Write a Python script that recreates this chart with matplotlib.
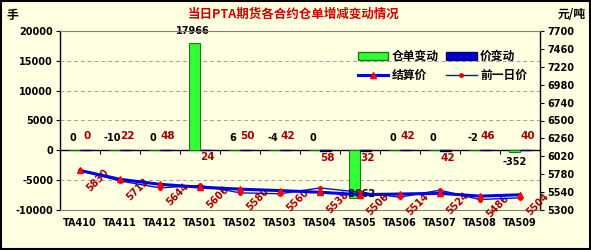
import matplotlib
matplotlib.use("Agg")
import matplotlib.pyplot as plt
import matplotlib.transforms as mtransforms
from matplotlib.patches import Rectangle, Patch
from matplotlib.lines import Line2D
import numpy as np

plt.rcParams['font.family'] = ['Noto Sans CJK SC', 'DejaVu Sans']
plt.rcParams['axes.unicode_minus'] = False

categories = ["TA410", "TA411", "TA412", "TA501", "TA502", "TA503",
              "TA504", "TA505", "TA506", "TA507", "TA508", "TA509"]
receipt_change = [0, -10, 0, 17966, 6, -4, 0, -8062, 0, 0, -2, -352]
price_change = [0, 22, 48, -24, 50, 42, -58, -32, 42, -42, 46, 40]
settle_price = [5830, 5712, 5644, 5606, 5580, 5560, 5538, 5506, 5514, 5524, 5486, 5504]
prev_price = [s - c for s, c in zip(settle_price, price_change)]

left_ticks = [-10000, -5000, 0, 5000, 10000, 15000, 20000]
right_ticks = [5300, 5540, 5780, 6020, 6260, 6500, 6740, 6980, 7220, 7460, 7700]

BG = "#FFFFE1"
DARKRED = "#A00000"

fig = plt.figure(figsize=(5.91, 2.5), dpi=100, facecolor=BG)
ax = fig.add_axes([60/591, 1-210/250, 480/591, 179/250])
ax.set_facecolor(BG)
ax2 = ax.twinx()

x = np.arange(len(categories))
w = 0.275
ax.bar(x - w/2, receipt_change, w, color="#33FF33", edgecolor="#1A7A1A", lw=0.8, zorder=3)
ax.bar(x + w/2, price_change, w, color="#0000CC", edgecolor="#000044", lw=1.0, zorder=3)

ax.set_xlim(-0.5, len(categories) - 0.5)
ax.set_ylim(left_ticks[0], left_ticks[-1])
ax.set_yticks(left_ticks)
ax.set_yticklabels([str(v) for v in left_ticks], fontsize=7, fontweight='bold',
                   family='DejaVu Sans')
ax.tick_params(axis='y', direction='out', length=3, width=0.8, pad=2)
for t in left_ticks:
    if t not in (0, left_ticks[0], left_ticks[-1]):
        ax.axhline(t, color="#A0A0A0", lw=0.7, ls=(0, (4, 3)), zorder=1)

ax.spines['bottom'].set_position(('data', 0))
ax.spines['bottom'].set_linewidth(1.0)
ax.spines['top'].set_visible(False)
ax.spines['right'].set_visible(False)
ax.spines['left'].set_linewidth(1.0)
ax.set_xticks(np.arange(0.5, len(categories) - 1, 1.0))
ax.set_xticklabels([])
ax.tick_params(axis='x', direction='out', length=3, width=0.8)

trans = mtransforms.blended_transform_factory(ax.transData, ax.transAxes)
for i, c in enumerate(categories):
    ax.text(i, -0.075, c, transform=trans, ha='center', va='center', fontsize=7,
            fontweight='bold', family='DejaVu Sans')

# data labels receipt change
for i, v in enumerate(receipt_change):
    if v < -1000:
        ax.annotate(str(v), (i - w/2, v), xytext=(6, 4), textcoords='offset pixels',
                    ha='center', va='center', fontsize=7, fontweight='bold', family='DejaVu Sans')
    elif v < -100:
        ax.annotate(str(v), (i - w/2, v), xytext=(0, -10), textcoords='offset pixels',
                    ha='center', va='center', fontsize=7, fontweight='bold', family='DejaVu Sans')
    else:
        ax.annotate(str(v), (i - w/2, max(v, 0)), xytext=(-2, 12), textcoords='offset pixels',
                    ha='center', va='center', fontsize=7, fontweight='bold', family='DejaVu Sans')

for i, v in enumerate(price_change):
    dy = 14 if v >= 0 else -7
    ax.annotate(str(abs(v)), (i + w/2, v), xytext=(2, dy), textcoords='offset pixels',
                ha='center', va='center', fontsize=7.5, fontweight='bold',
                color=DARKRED, family='DejaVu Sans')

# price lines
ax2.plot(x, prev_price, color="#1010C0", lw=1.0, marker='o', markersize=2.5,
         markerfacecolor="#E00000", markeredgecolor="#E00000", zorder=4)
ax2.plot(x, settle_price, color="#0000E0", lw=2.2, marker='^', markersize=5,
         markerfacecolor="#FF0000", markeredgecolor="#FF0000", zorder=5)
for i, v in enumerate(settle_price):
    ax2.annotate(str(v), (i, v), xytext=(18, -10), textcoords='offset pixels',
                 ha='center', va='center', rotation=45, fontsize=7, fontweight='bold',
                 color=DARKRED, family='DejaVu Sans')

ax2.set_ylim(right_ticks[0], right_ticks[-1])
ax2.set_yticks(right_ticks)
ax2.set_yticklabels([str(v) for v in right_ticks], fontsize=7, fontweight='bold',
                    family='DejaVu Sans')
ax2.tick_params(axis='y', direction='out', length=3, width=0.8, pad=2)
ax2.spines['left'].set_visible(False)
ax2.spines['right'].set_linewidth(1.0)
ax2.spines['top'].set_color("#808080")
ax2.spines['bottom'].set_color("#808080")
ax2.patch.set_visible(False)

handles = [Patch(facecolor="#33FF33", edgecolor="#1A7A1A"),
           Line2D([], [], color="#0000E0", lw=2.2, marker='^', markersize=5,
                  markerfacecolor="#FF0000", markeredgecolor="#FF0000"),
           Patch(facecolor="#0000CC", edgecolor="#000066"),
           Line2D([], [], color="#1010C0", lw=1.0, marker='o', markersize=2.5,
                  markerfacecolor="#E00000", markeredgecolor="#E00000")]
labels = ["仓单变动", "结算价", "价变动", "前一日价"]
leg = ax2.legend(handles, labels, ncol=2, loc='upper left',
                 bbox_to_anchor=(0.61, 0.92), frameon=False,
                 prop={'family': ['Noto Sans CJK SC'], 'weight': 'bold', 'size': 8.5},
                 handlelength=2.6, handleheight=0.6, columnspacing=0.6,
                 handletextpad=0.3, labelspacing=0.5, borderaxespad=0)

fig.text(0.496, 1-14/250, "当日PTA期货各合约仓单增减变动情况", ha='center', va='center',
         fontsize=9, fontweight='bold', color="#CC0000")
fig.text(12/591, 1-15/250, "手", ha='center', va='center', fontsize=8.5, fontweight='bold')
fig.text(572/591, 1-15/250, "元/吨", ha='center', va='center', fontsize=8.5, fontweight='bold')

fig.patches.append(Rectangle((0.002, 0.004), 0.996, 0.992, transform=fig.transFigure,
                             fill=False, edgecolor='black', lw=1.5))

fig.savefig("out.png", dpi=100, facecolor=BG)
